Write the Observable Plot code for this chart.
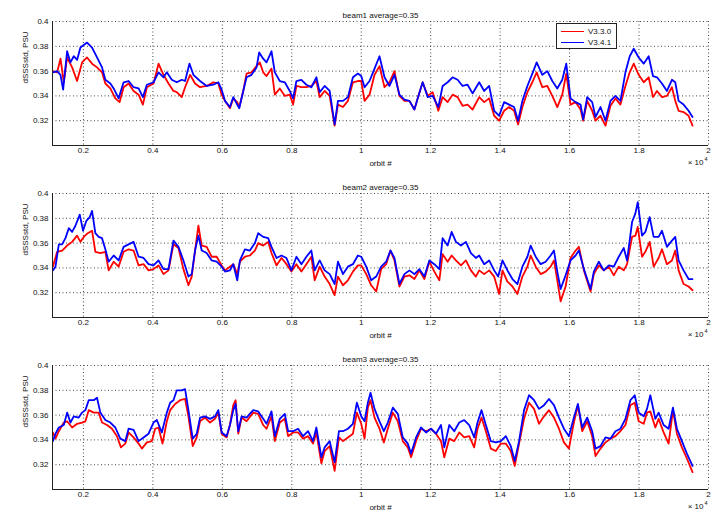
<!DOCTYPE html>
<html><head><meta charset="utf-8">
<script src="https://cdn.jsdelivr.net/npm/d3@7"></script>
<script src="https://cdn.jsdelivr.net/npm/@observablehq/plot@0.6"></script>
<style>
body{margin:0;background:#fff}
#chart{position:relative;width:714px;height:512px;font-family:"Liberation Sans",Arial,sans-serif;overflow:hidden}
#chart svg{display:block}
.legend{position:absolute;left:556px;top:23px;width:59px;height:24px;border:1px solid #222;background:#fff;font-size:8px;color:#111}
.legend .row{position:absolute;left:4px;height:11px;display:flex;align-items:center}
.legend .sw{width:23px;height:0;border-top:1px solid;margin-right:4px}
</style>
</head><body><div id="chart"></div>
<script>
const seriesNames = ["V3.3.0", "V3.4.1"];
const seriesColors = ["#ff0000", "#0000ff"];
const titles = ["beam1 average=0.35", "beam2 average=0.35", "beam3 average=0.35"];
const yLabel = "dSSSstd, PSU";
const xLabel = "orbit #";
const xTicks = [2000, 4000, 6000, 8000, 10000, 12000, 14000, 16000, 18000, 20000];
const yTicks = [0.32, 0.34, 0.36, 0.38, 0.40];
const xDomain = [1110, 20000];
const yDomain = [0.30, 0.40];

// [orbit, dSSSstd]
const beam1V330 = [[1120,.36],[1244,.359],[1340,.37],[1435,.351],[1531,.371],[1675,.363],[1818,.352],[1962,.367],[2105,.371],[2249,.366],[2392,.363],[2536,.359],[2632,.35],[2775,.346],[2919,.338],[3043,.335],[3158,.347],[3301,.35],[3445,.344],[3589,.341],[3713,.333],[3828,.347],[4019,.35],[4163,.366],[4306,.357],[4450,.35],[4593,.344],[4689,.343],[4832,.339],[4928,.347],[5072,.357],[5215,.35],[5359,.347],[5550,.348],[5741,.351],[5885,.35],[5981,.341],[6076,.336],[6220,.33],[6316,.338],[6430,.335],[6488,.331],[6603,.344],[6698,.358],[6842,.359],[6985,.364],[7081,.367],[7177,.359],[7273,.356],[7416,.362],[7512,.341],[7655,.346],[7799,.34],[7942,.341],[8038,.333],[8134,.348],[8277,.347],[8421,.347],[8564,.348],[8708,.352],[8804,.339],[8947,.344],[9091,.34],[9234,.316],[9330,.333],[9474,.331],[9617,.336],[9761,.351],[9904,.352],
[10000,.352],[10096,.336],[10239,.341],[10383,.357],[10526,.364],[10670,.347],[10813,.351],[10957,.36],[11100,.34],[11244,.336],[11388,.336],[11531,.329],[11646,.34],[11770,.351],[11914,.34],[12057,.343],[12220,.328],[12344,.339],[12488,.335],[12632,.341],[12775,.339],[12918,.332],[13062,.333],[13206,.329],[13397,.339],[13541,.335],[13684,.338],[13828,.324],[13971,.32],[14115,.328],[14258,.331],[14402,.328],[14517,.317],[14641,.331],[14785,.343],[14928,.351],[15052,.359],[15215,.347],[15359,.348],[15502,.34],[15646,.331],[15789,.341],[15904,.358],[16028,.333],[16172,.335],[16316,.329],[16392,.32],[16507,.336],[16651,.328],[16746,.32],[16890,.324],[17033,.316],[17177,.332],[17320,.338],[17464,.333],[17608,.348],[17732,.359],[17847,.366],[17990,.357],[18134,.351],[18277,.355],[18402,.339],[18516,.344],[18660,.339],[18803,.34],[18947,.347],[19043,.336],[19139,.328],[19282,.327],[19426,.324],[19540,.316]];

const beam1V341 = [[1120,.359],[1244,.36],[1340,.357],[1416,.345],[1531,.376],[1627,.367],[1722,.372],[1818,.369],[1914,.379],[2105,.383],[2249,.379],[2392,.371],[2536,.363],[2632,.353],[2775,.35],[2871,.346],[3014,.338],[3158,.351],[3301,.352],[3445,.347],[3589,.346],[3713,.339],[3828,.349],[4019,.351],[4163,.359],[4306,.355],[4402,.359],[4545,.353],[4689,.351],[4832,.353],[4928,.352],[5053,.366],[5167,.357],[5359,.352],[5550,.348],[5741,.349],[5885,.351],[5981,.345],[6076,.336],[6220,.331],[6316,.339],[6430,.333],[6488,.33],[6603,.344],[6698,.355],[6842,.357],[6985,.363],[7062,.375],[7177,.37],[7273,.367],[7416,.376],[7512,.359],[7655,.352],[7799,.351],[7942,.344],[8038,.338],[8134,.352],[8277,.353],[8421,.349],[8564,.347],[8708,.355],[8804,.343],[8947,.348],[9091,.344],[9234,.317],[9330,.336],[9474,.336],[9617,.339],[9761,.355],[9904,.358],
[10000,.356],[10096,.347],[10239,.352],[10383,.362],[10526,.372],[10670,.355],[10813,.348],[10957,.357],[11100,.341],[11244,.337],[11388,.336],[11531,.329],[11646,.34],[11770,.351],[11914,.339],[12057,.34],[12220,.331],[12344,.348],[12488,.351],[12632,.355],[12775,.353],[12918,.348],[13062,.349],[13206,.342],[13397,.351],[13541,.344],[13684,.348],[13828,.328],[13971,.324],[14115,.335],[14258,.333],[14402,.331],[14517,.32],[14641,.336],[14785,.348],[14928,.358],[15052,.367],[15215,.357],[15359,.36],[15502,.352],[15646,.346],[15789,.353],[15904,.366],[16028,.338],[16172,.335],[16316,.333],[16392,.321],[16507,.339],[16651,.335],[16746,.323],[16890,.331],[17033,.32],[17177,.336],[17320,.34],[17464,.336],[17608,.359],[17732,.372],[17847,.378],[17990,.371],[18134,.366],[18277,.372],[18402,.356],[18516,.355],[18660,.35],[18803,.344],[18947,.353],[19043,.351],[19139,.336],[19282,.333],[19426,.328],[19540,.323]];

const beam2V330 = [[1120,.341],[1244,.353],[1388,.354],[1531,.358],[1675,.361],[1818,.366],[1914,.361],[2010,.365],[2124,.368],[2249,.37],[2344,.353],[2488,.352],[2632,.353],[2727,.338],[2871,.345],[3014,.341],[3158,.353],[3301,.355],[3445,.354],[3589,.342],[3732,.343],[3876,.338],[4019,.339],[4163,.342],[4306,.335],[4450,.338],[4593,.359],[4737,.356],[4880,.339],[5024,.326],[5119,.333],[5215,.354],[5311,.374],[5407,.358],[5550,.357],[5694,.349],[5837,.349],[5981,.342],[6076,.338],[6220,.341],[6316,.343],[6430,.335],[6507,.345],[6651,.349],[6794,.35],[6938,.354],[7033,.36],[7177,.358],[7320,.361],[7416,.352],[7560,.342],[7703,.348],[7847,.343],[7990,.337],[8134,.343],[8277,.337],[8421,.343],[8564,.349],[8660,.33],[8804,.341],[8947,.333],[9091,.327],[9234,.318],[9330,.333],[9474,.326],[9617,.33],[9761,.337],[9904,.342],
[10000,.342],[10144,.335],[10287,.326],[10431,.321],[10574,.339],[10718,.343],[10842,.354],[10957,.346],[11100,.325],[11244,.333],[11388,.334],[11531,.331],[11675,.338],[11818,.331],[11962,.345],[12105,.337],[12249,.33],[12344,.351],[12488,.345],[12603,.35],[12727,.346],[12871,.342],[13014,.346],[13158,.338],[13301,.333],[13397,.338],[13541,.335],[13684,.338],[13828,.333],[13971,.319],[14067,.338],[14210,.329],[14354,.325],[14497,.319],[14641,.333],[14785,.341],[14880,.35],[15024,.341],[15167,.335],[15311,.337],[15454,.341],[15550,.346],[15646,.33],[15741,.313],[15885,.325],[16028,.348],[16172,.354],[16268,.357],[16412,.338],[16603,.321],[16698,.335],[16842,.342],[16985,.338],[17129,.341],[17273,.334],[17416,.341],[17560,.338],[17655,.343],[17799,.365],[17895,.366],[17962,.373],[18086,.349],[18182,.353],[18306,.361],[18421,.341],[18564,.348],[18660,.355],[18803,.343],[18947,.346],[19043,.354],[19139,.338],[19282,.327],[19426,.325],[19540,.322]];

const beam2V341 = [[1120,.338],[1196,.341],[1292,.359],[1388,.359],[1483,.364],[1579,.372],[1675,.369],[1770,.374],[1895,.383],[1990,.37],[2086,.378],[2182,.381],[2249,.386],[2344,.368],[2440,.365],[2536,.364],[2632,.355],[2727,.345],[2871,.35],[3014,.346],[3158,.357],[3301,.359],[3445,.361],[3589,.349],[3732,.348],[3876,.343],[4019,.342],[4163,.346],[4306,.339],[4450,.339],[4593,.362],[4737,.357],[4880,.346],[5024,.333],[5119,.335],[5215,.354],[5311,.366],[5407,.354],[5550,.352],[5694,.346],[5837,.345],[5981,.341],[6076,.337],[6220,.338],[6316,.343],[6430,.33],[6507,.346],[6651,.355],[6794,.354],[6938,.36],[7033,.368],[7177,.365],[7320,.364],[7416,.357],[7560,.348],[7703,.35],[7847,.348],[7990,.338],[8134,.349],[8277,.343],[8421,.349],[8564,.354],[8660,.338],[8804,.346],[8947,.338],[9091,.335],[9234,.327],[9330,.345],[9474,.335],[9617,.341],[9761,.343],[9904,.35],
[10000,.349],[10144,.341],[10287,.33],[10431,.333],[10574,.341],[10718,.345],[10842,.354],[10957,.348],[11100,.327],[11244,.335],[11388,.338],[11531,.335],[11675,.339],[11818,.333],[11962,.346],[12105,.343],[12249,.339],[12344,.364],[12488,.358],[12603,.369],[12727,.361],[12871,.358],[13014,.361],[13158,.352],[13301,.348],[13397,.35],[13541,.343],[13684,.346],[13828,.338],[13943,.333],[14067,.346],[14210,.338],[14354,.331],[14497,.327],[14641,.341],[14785,.349],[14880,.358],[15024,.349],[15167,.343],[15311,.345],[15454,.35],[15550,.354],[15646,.337],[15741,.323],[15885,.334],[16028,.346],[16172,.35],[16268,.354],[16412,.339],[16603,.323],[16698,.337],[16842,.345],[16985,.338],[17129,.342],[17273,.341],[17416,.349],[17560,.356],[17655,.346],[17799,.377],[17895,.384],[17962,.393],[18086,.366],[18182,.369],[18306,.381],[18421,.365],[18564,.365],[18660,.37],[18803,.357],[18947,.362],[19043,.365],[19139,.346],[19282,.338],[19426,.331],[19540,.331]];

const beam3V330 = [[1120,.346],[1196,.341],[1292,.347],[1435,.354],[1531,.355],[1675,.35],[1818,.353],[1962,.354],[2057,.355],[2153,.364],[2297,.362],[2440,.362],[2536,.354],[2679,.352],[2823,.349],[2966,.343],[3081,.334],[3206,.337],[3301,.346],[3445,.342],[3589,.337],[3684,.333],[3828,.338],[3971,.339],[4067,.349],[4163,.35],[4277,.337],[4402,.355],[4498,.364],[4641,.369],[4785,.372],[4928,.373],[5024,.359],[5148,.335],[5263,.342],[5359,.355],[5502,.358],[5646,.354],[5789,.357],[5885,.362],[5981,.345],[6124,.342],[6220,.352],[6316,.368],[6383,.372],[6459,.345],[6555,.358],[6698,.355],[6890,.362],[7033,.361],[7177,.352],[7273,.349],[7416,.359],[7512,.339],[7655,.354],[7799,.357],[7895,.343],[8038,.346],[8182,.346],[8325,.341],[8469,.343],[8612,.337],[8708,.346],[8852,.321],[8947,.331],[9091,.335],[9234,.315],[9359,.342],[9474,.339],[9617,.342],[9761,.345],[9875,.362],
[10000,.353],[10096,.341],[10191,.366],[10268,.372],[10383,.358],[10526,.349],[10651,.338],[10766,.349],[10909,.362],[11053,.355],[11196,.339],[11340,.334],[11435,.326],[11579,.339],[11722,.349],[11866,.347],[12010,.349],[12153,.345],[12297,.339],[12392,.326],[12536,.341],[12679,.339],[12823,.346],[12966,.342],[13110,.343],[13253,.334],[13349,.349],[13464,.358],[13589,.347],[13732,.333],[13876,.331],[14019,.337],[14163,.337],[14306,.331],[14421,.319],[14545,.337],[14689,.357],[14832,.37],[14976,.365],[15119,.353],[15263,.359],[15407,.364],[15550,.358],[15694,.349],[15837,.338],[15981,.333],[16124,.354],[16239,.368],[16363,.347],[16507,.355],[16651,.343],[16746,.327],[16890,.333],[17033,.338],[17177,.341],[17320,.343],[17464,.347],[17608,.352],[17751,.368],[17875,.37],[17990,.355],[18134,.353],[18229,.362],[18325,.363],[18469,.35],[18564,.357],[18708,.346],[18851,.337],[18976,.364],[19091,.345],[19234,.334],[19378,.325],[19540,.314]];

const beam3V341 = [[1120,.339],[1196,.345],[1292,.35],[1435,.352],[1531,.362],[1627,.354],[1722,.359],[1866,.358],[1962,.362],[2057,.364],[2153,.372],[2297,.372],[2392,.374],[2488,.362],[2632,.356],[2775,.354],[2919,.35],[3062,.341],[3206,.339],[3301,.349],[3445,.348],[3589,.339],[3732,.342],[3876,.345],[4019,.354],[4115,.356],[4258,.346],[4402,.362],[4498,.37],[4593,.372],[4689,.38],[4832,.38],[4928,.381],[5024,.364],[5148,.341],[5263,.345],[5359,.358],[5502,.359],[5646,.357],[5789,.359],[5885,.364],[5981,.346],[6124,.343],[6220,.352],[6316,.364],[6383,.369],[6459,.347],[6555,.359],[6698,.358],[6890,.364],[7033,.363],[7177,.357],[7273,.353],[7416,.363],[7512,.343],[7655,.357],[7799,.361],[7895,.347],[8038,.347],[8182,.349],[8325,.343],[8469,.347],[8612,.339],[8708,.35],[8852,.326],[8947,.334],[9091,.339],[9234,.322],[9359,.347],[9474,.347],[9617,.349],[9761,.353],[9875,.37],
[10000,.359],[10096,.355],[10191,.37],[10268,.378],[10383,.365],[10526,.355],[10651,.347],[10766,.354],[10909,.366],[11053,.361],[11196,.342],[11340,.337],[11435,.329],[11579,.342],[11722,.35],[11866,.346],[12010,.349],[12153,.345],[12297,.352],[12392,.334],[12536,.352],[12679,.347],[12823,.354],[12966,.356],[13110,.352],[13253,.342],[13349,.354],[13464,.364],[13589,.352],[13732,.339],[13876,.338],[14019,.339],[14163,.343],[14306,.335],[14421,.323],[14545,.339],[14689,.364],[14832,.376],[14976,.372],[15119,.365],[15263,.368],[15407,.373],[15550,.368],[15694,.358],[15837,.349],[15981,.343],[16124,.358],[16239,.369],[16363,.35],[16507,.358],[16651,.347],[16746,.333],[16890,.335],[17033,.342],[17177,.341],[17320,.347],[17464,.349],[17608,.357],[17751,.372],[17875,.376],[17990,.362],[18134,.359],[18229,.365],[18325,.376],[18469,.357],[18564,.362],[18708,.352],[18851,.349],[18976,.366],[19091,.349],[19234,.339],[19378,.329],[19540,.319]];

const panels = [
  {title: titles[0], series: [beam1V330, beam1V341], height: 172, legend: true},
  {title: titles[1], series: [beam2V330, beam2V341], height: 172, legend: false},
  {title: titles[2], series: [beam3V330, beam3V341], height: 168, legend: false}
];

const fmtX = d => String(+(d / 1e4).toFixed(2));
const fmtY = d => String(+d.toFixed(2));
const gridStyle = {stroke: "#333", strokeOpacity: 0.9, strokeDasharray: "1,2.5", strokeWidth: 1};
const chart = document.getElementById("chart");

panels.forEach(p => {
  const svg = Plot.plot({
    width: 714,
    height: p.height,
    marginLeft: 52,
    marginRight: 6,
    marginTop: 21,
    marginBottom: p.height - 145,
    style: {background: "#fff", fontFamily: "'Liberation Sans', Arial, sans-serif", fontSize: "8px", color: "#111", overflow: "visible"},
    x: {domain: xDomain},
    y: {domain: yDomain},
    marks: [
      Plot.gridX(xTicks, gridStyle),
      Plot.gridY(yTicks, gridStyle),
      Plot.axisX(xTicks, {tickSize: 0, tickPadding: 2, tickFormat: fmtX, label: null, fontSize: 8}),
      Plot.axisY(yTicks, {tickSize: 0, tickPadding: 4, tickFormat: fmtY, label: null, fontSize: 8}),
      ...p.series.map((s, i) => Plot.line(s, {x: d => d[0], y: d => d[1], stroke: seriesColors[i], strokeWidth: 1.8})),
      Plot.ruleX([xDomain[0]], {stroke: "#222", strokeWidth: 1}),
      Plot.ruleY([yDomain[0]], {stroke: "#222", strokeWidth: 1}),
      Plot.text([p.title], {frameAnchor: "top", dy: -9, fontSize: 8, fill: "#111"}),
      Plot.text([xLabel], {frameAnchor: "bottom", dy: 20, fontSize: 8, fill: "#111"}),
      Plot.text(["\u00d7 10"], {frameAnchor: "bottom-right", textAnchor: "end", dx: -5, dy: 19, fontSize: 8, fill: "#111"}),
      Plot.text(["4"], {frameAnchor: "bottom-right", textAnchor: "start", dx: -4, dy: 15, fontSize: 5.5, fill: "#111"}),
      Plot.text([yLabel], {frameAnchor: "left", dx: -27, rotate: -90, fontSize: 8, fill: "#111"})
    ]
  });
  chart.appendChild(svg);
  if (p.legend) {
    const lg = document.createElement("div");
    lg.className = "legend";
    seriesNames.forEach((n, i) => {
      const row = document.createElement("div");
      row.className = "row";
      row.style.top = (2 + i * 11) + "px";
      const sw = document.createElement("span");
      sw.className = "sw";
      sw.style.borderColor = seriesColors[i];
      const tx = document.createElement("span");
      tx.textContent = n;
      row.appendChild(sw); row.appendChild(tx);
      lg.appendChild(row);
    });
    chart.appendChild(lg);
  }
});
</script>
</body></html>
